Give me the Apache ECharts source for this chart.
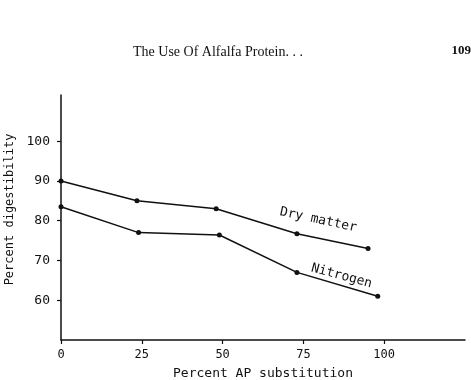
<!DOCTYPE html>
<html><head><meta charset="utf-8">
<script src="https://cdn.jsdelivr.net/npm/echarts@6/dist/echarts.min.js"></script>
<style>html,body{margin:0;padding:0;background:#fff}#c{width:471px;height:380px}</style>
</head><body><div id="c"></div>
<script>
const xTicks = [0, 25, 50, 75, 100];
const yTicks = [60, 70, 80, 90, 100];
const dryX = [0, 23.5, 48, 73, 95];
const dryY = [90, 85, 83, 76.7, 73];
const nitX = [0, 24, 49, 73, 98];
const nitY = [83.5, 77, 76.4, 67, 61];
const seriesNames = ['Dry matter', 'Nitrogen'];

const hand = '"DejaVu Sans Mono", monospace';
const chart = echarts.init(document.getElementById('c'));
function pairs(xs, ys) { return xs.map((x, i) => [x, ys[i]]); }
chart.setOption({
  animation: false,
  backgroundColor: '#fff',
  title: [
    { text: 'The Use Of Alfalfa Protein. . .', left: 128, top: 40,
      textStyle: { fontFamily: '"Liberation Serif", serif', fontSize: 14, fontWeight: 'normal', color: '#111' } },
    { text: '109', right: 0, top: 44, padding: 0,
      textStyle: { fontFamily: '"Liberation Serif", serif', fontSize: 13, fontWeight: 'bold', color: '#111' } }
  ],
  grid: { left: 61, right: 6, top: 95, bottom: 40, containLabel: false, outerBoundsMode: 'none' },
  xAxis: {
    type: 'value', min: 0, max: 125,
    name: 'Percent AP substitution', nameLocation: 'middle', nameGap: 27,
    nameTextStyle: { fontFamily: hand, fontSize: 13, color: '#111' },
    axisLine: { show: true, lineStyle: { color: '#111', width: 1.5 } },
    axisTick: { show: true, length: 4, customValues: xTicks, lineStyle: { color: '#111', width: 1.2 } },
    axisLabel: { customValues: xTicks, margin: 9, fontFamily: hand, fontSize: 12, color: '#111' },
    splitLine: { show: false }
  },
  yAxis: {
    type: 'value', min: 50, max: 111.6,
    name: 'Percent digestibility', nameLocation: 'middle', nameGap: 44, nameRotate: 90,
    nameTextStyle: { fontFamily: hand, fontSize: 12, color: '#111', padding: [0, 0, 0, 16] },
    axisLine: { show: true, lineStyle: { color: '#111', width: 1.5 } },
    axisTick: { show: true, length: 4, customValues: yTicks, lineStyle: { color: '#111', width: 1.2 } },
    axisLabel: { customValues: yTicks, margin: 11, fontFamily: hand, fontSize: 13, color: '#111' },
    splitLine: { show: false }
  },
  series: [
    { name: seriesNames[0], type: 'line', data: pairs(dryX, dryY).map((p, i) => i === 3 ? {
        value: p, label: { show: true, formatter: seriesNames[0], offset: [18, -18], rotate: -12, position: 'inside',
          fontFamily: hand, fontSize: 13, color: '#111' } } : p),
      symbol: 'circle', symbolSize: 5, itemStyle: { color: '#111' },
      lineStyle: { color: '#111', width: 1.5 } },
    { name: seriesNames[1], type: 'line', data: pairs(nitX, nitY).map((p, i) => i === 3 ? {
        value: p, label: { show: true, formatter: seriesNames[1], offset: [44, -8], rotate: -15, position: 'inside',
          fontFamily: hand, fontSize: 13, color: '#111' } } : p),
      symbol: 'circle', symbolSize: 5, itemStyle: { color: '#111' },
      lineStyle: { color: '#111', width: 1.5 } }
  ]
});
</script></body></html>
